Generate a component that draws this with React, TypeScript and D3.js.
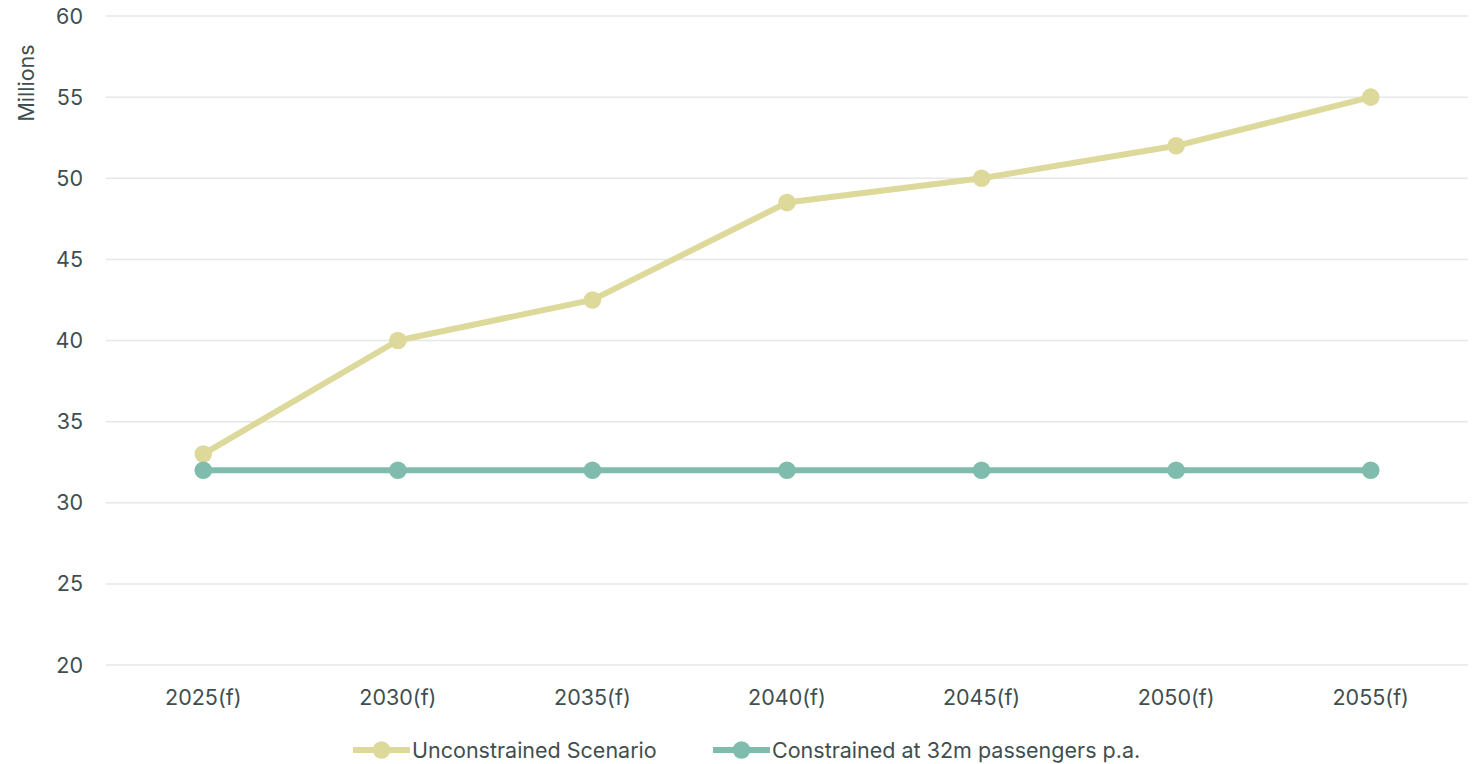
import React from "react";
import * as d3 from "d3";

const categories = ["2025(f)", "2030(f)", "2035(f)", "2040(f)", "2045(f)", "2050(f)", "2055(f)"];
const unconstrained = [33, 40, 42.5, 48.5, 50, 52, 55];
const constrained = [32, 32, 32, 32, 32, 32, 32];
const yTicks = [20, 25, 30, 35, 40, 45, 50, 55, 60];
const seriesNames = ["Unconstrained Scenario", "Constrained at 32m passengers p.a."];
const colors = ["#dcd99a", "#7fbcad"];

const W = 1476, H = 764;
const left = 106, right = 1468, top = 16, bottom = 665;
const textColor = "#3f4f50";
const font = "Inter, 'Noto Sans', sans-serif";

export default function App() {
  const x = d3.scalePoint<string>().domain(categories).range([left, right]).padding(0.5);
  const y = d3.scaleLinear().domain([20, 60]).range([bottom, top]);
  const line = d3.line<number>().x((_, i) => x(categories[i])!).y((d) => y(d));
  const series = [unconstrained, constrained];
  const legendX = [353, 713];
  return (
    <svg width={W} height={H} style={{ position: "absolute", left: 0, top: 0 }} fontFamily={font}>
      {yTicks.map((t) => (
        <g key={t}>
          <line x1={left} x2={right} y1={y(t)} y2={y(t)} stroke="#e6e8e8" strokeWidth={1.5} />
          <text x={83} y={y(t)} dy="0.35em" textAnchor="end" fontSize={21.5} fill={textColor}>{t}</text>
        </g>
      ))}
      <text transform={`translate(34,${83}) rotate(-90)`} textAnchor="middle" fontSize={21.5} fill={textColor}>Millions</text>
      {categories.map((c) => (
        <text key={c} x={x(c)} y={697} dy="0.35em" textAnchor="middle" fontSize={21.5} fill={textColor}>{c}</text>
      ))}
      {series.map((s, si) => (
        <g key={si}>
          <path d={line(s)!} fill="none" stroke={colors[si]} strokeWidth={6} strokeLinejoin="round" />
          {s.map((v, i) => (
            <circle key={i} cx={x(categories[i])} cy={y(v)} r={8.8} fill={colors[si]} />
          ))}
        </g>
      ))}
      {seriesNames.map((n, i) => (
        <g key={n} transform={`translate(${legendX[i]},750)`}>
          <line x1={0} x2={57} y1={0} y2={0} stroke={colors[i]} strokeWidth={6} />
          <circle cx={28.5} cy={0} r={8.8} fill={colors[i]} />
          <text x={59} y={0} dy="0.35em" fontSize={21.5} fill={textColor}>{n}</text>
        </g>
      ))}
    </svg>
  );
}
